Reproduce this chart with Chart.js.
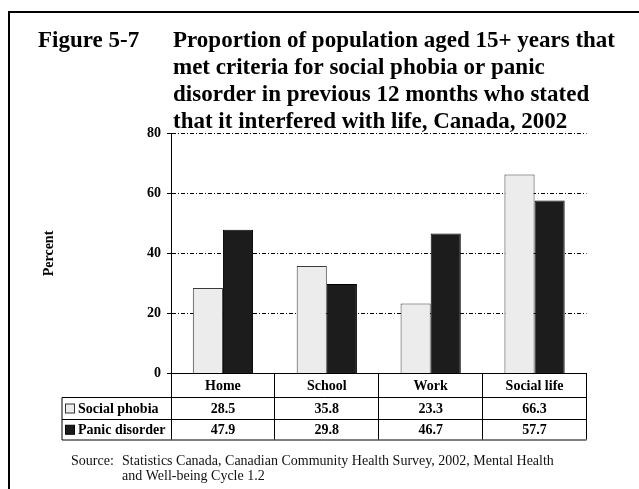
<!DOCTYPE html>
<html>
<head>
<meta charset="utf-8">
<script src="https://cdn.jsdelivr.net/npm/chart.js@4/dist/chart.umd.min.js"></script>
<style>
  html, body { margin: 0; padding: 0; background: #fff; }
  canvas { display: block; }
</style>
</head>
<body>
<canvas id="fig57" width="639" height="489"></canvas>
<script>
// data
var categories = ['Home', 'School', 'Work', 'Social life'];
var socialPhobia = [28.5, 35.8, 23.3, 66.3];
var panicDisorder = [47.9, 29.8, 46.7, 57.7];
var seriesNames = ['Social phobia', 'Panic disorder'];
var yTicks = [0, 20, 40, 60, 80];

var titleLead = 'Figure 5-7';
var titleLines = [
    'Proportion of population aged 15+ years that',
    'met criteria for social phobia or panic',
    'disorder in previous 12 months who stated',
    'that it interfered with life, Canada, 2002'
];
var sourceLabel = 'Source:';
var sourceLines = [
    'Statistics Canada, Canadian Community Health Survey, 2002, Mental Health',
    'and Well-being Cycle 1.2'
];

var SERIF = '"Liberation Serif", "Times New Roman", serif';
var LIGHT = '#ececec';
var DARK = '#1c1c1c';

// page furniture: frame, title, data table under the axis, source note
var figurePlugin = {
    id: 'figurePlugin',
    beforeDraw: function (chart) {
        var c = chart.ctx;
        c.save();
        c.fillStyle = '#fff';
        c.fillRect(0, 0, chart.width, chart.height);
        c.restore();
    },
    afterDraw: function (chart) {
        var c = chart.ctx;
        var xs = chart.scales.x;
        var area = chart.chartArea;
        c.save();

        // outer frame (runs off the right and bottom edges)
        c.strokeStyle = '#000';
        c.lineWidth = 2;
        c.strokeRect(9, 12, 700, 600);

        // title
        c.fillStyle = '#000';
        c.font = 'bold 23px ' + SERIF;
        c.textBaseline = 'alphabetic';
        c.textAlign = 'left';
        c.fillText(titleLead, 38, 47);
        titleLines.forEach(function (t, i) {
            c.fillText(t, 173, 47 + i * 27);
        });

        // data table
        var top = area.bottom;
        var r1 = top + 24;
        var r2 = r1 + 22;
        var r3 = r2 + 20.5;
        var tLeft = 62;
        var tRight = xs.right;
        c.lineWidth = 1;
        c.strokeStyle = '#000';
        c.beginPath();
        c.moveTo(tLeft, r1); c.lineTo(tRight, r1);
        c.moveTo(tLeft, r2); c.lineTo(tRight, r2);
        c.moveTo(tLeft, r3); c.lineTo(tRight, r3);
        c.moveTo(tLeft, r1); c.lineTo(tLeft, r3);
        c.stroke();

        c.font = 'bold 14px ' + SERIF;
        c.textAlign = 'center';
        c.textBaseline = 'middle';
        var rows = [socialPhobia, panicDisorder];
        categories.forEach(function (cat, i) {
            var cx = xs.getPixelForValue(i);
            c.fillText(cat, cx, (top + r1) / 2 + 1);
            c.fillText(rows[0][i].toFixed(1), cx, (r1 + r2) / 2 + 1);
            c.fillText(rows[1][i].toFixed(1), cx, (r2 + r3) / 2 + 1);
        });

        // row labels with legend swatches
        c.textAlign = 'left';
        [[r1, r2, LIGHT, '#333'], [r2, r3, DARK, '#000']].forEach(function (row, k) {
            var cy = (row[0] + row[1]) / 2;
            c.fillStyle = row[2];
            c.fillRect(65.5, cy - 4.5, 9, 9);
            c.strokeStyle = row[3];
            c.strokeRect(65.5, cy - 4.5, 9, 9);
            c.fillStyle = '#000';
            c.fillText(seriesNames[k], 78, cy + 1);
        });

        // source note
        c.font = '14px ' + SERIF;
        c.fillStyle = '#111';
        c.textBaseline = 'alphabetic';
        c.fillText(sourceLabel, 71, 465);
        sourceLines.forEach(function (t, i) {
            c.fillText(t, 122, 465 + i * 15);
        });

        c.restore();
    }
};

var ctx = document.getElementById('fig57').getContext('2d');

new Chart(ctx, {
    type: 'bar',
    data: {
        labels: categories,
        datasets: [
            {
                label: seriesNames[0],
                data: socialPhobia,
                backgroundColor: LIGHT,
                borderColor: '#3a3a3a',
                borderWidth: 1,
                barPercentage: 1,
                categoryPercentage: 0.58
            },
            {
                label: seriesNames[1],
                data: panicDisorder,
                backgroundColor: DARK,
                borderColor: '#000',
                borderWidth: 1,
                barPercentage: 1,
                categoryPercentage: 0.58
            }
        ]
    },
    options: {
        responsive: false,
        devicePixelRatio: 1,
        animation: false,
        layout: {
            padding: { left: 41, top: 133.5, right: 52.5, bottom: 49.5 }
        },
        plugins: {
            legend: { display: false },
            title: { display: false },
            tooltip: { enabled: false }
        },
        scales: {
            x: {
                type: 'category',
                offset: true,
                afterFit: function (scale) { scale.height = 66; },
                grid: {
                    display: true,
                    offset: true,
                    drawOnChartArea: false,
                    drawTicks: true,
                    tickLength: 66,
                    tickColor: '#000',
                    tickWidth: 1
                },
                ticks: { display: false },
                border: { display: true, color: '#000', width: 1 }
            },
            y: {
                min: yTicks[0],
                max: yTicks[yTicks.length - 1],
                afterFit: function (scale) { scale.width = 130; },
                afterBuildTicks: function (scale) {
                    scale.ticks = yTicks.map(function (v) { return { value: v }; });
                },
                ticks: {
                    color: '#000',
                    padding: 6,
                    font: { family: SERIF, size: 14, weight: 'bold' }
                },
                grid: {
                    color: function (c) {
                        return c.tick && c.tick.value === 0 ? 'rgba(0,0,0,0)' : '#000';
                    },
                    lineWidth: 1,
                    drawTicks: true,
                    tickLength: 4,
                    tickColor: '#000',
                    tickWidth: 1,
                    tickBorderDash: []
                },
                border: { display: true, color: '#000', width: 1, dash: [4, 2, 1, 2] },
                title: {
                    display: true,
                    text: 'Percent',
                    color: '#000',
                    padding: 0,
                    font: { family: SERIF, size: 14, weight: 'bold' }
                }
            }
        }
    },
    plugins: [figurePlugin]
});
</script>
</body>
</html>
